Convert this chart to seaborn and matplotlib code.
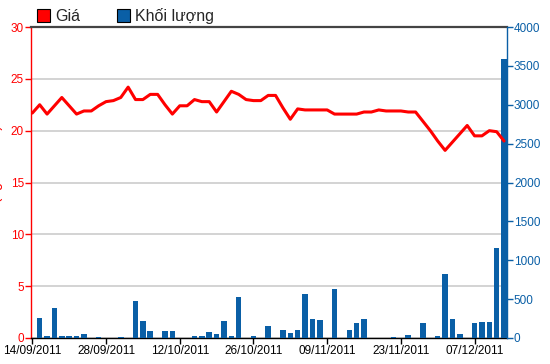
import numpy as np
import pandas as pd
import seaborn as sns
import matplotlib.pyplot as plt
from matplotlib.patches import Patch

# trading days 14/09/2011 .. 13/12/2011
dates = pd.bdate_range("2011-09-14", periods=65)
tick_labels = ["14/09/2011", "28/09/2011", "12/10/2011", "26/10/2011",
               "09/11/2011", "23/11/2011", "07/12/2011"]

price = [21.7, 22.5, 21.6, 22.4, 23.2, 22.4, 21.6, 21.9, 21.9, 22.4,
         22.8, 22.9, 23.2, 24.2, 23.0, 23.0, 23.5, 23.5, 22.5, 21.6,
         22.4, 22.4, 23.0, 22.8, 22.8, 21.8, 22.8, 23.8, 23.5, 23.0,
         22.9, 22.9, 23.4, 23.4, 22.2, 21.1, 22.1, 22.0, 22.0, 22.0,
         22.0, 21.6, 21.6, 21.6, 21.6, 21.8, 21.8, 22.0, 21.9, 21.9,
         21.9, 21.8, 21.8, 20.9, 20.0, 19.0, 18.1, 18.9, 19.7, 20.5,
         19.5, 19.5, 20.0, 19.9, 19.0]

volume = [0, 253, 30, 382, 30, 30, 30, 51, 0, 17,
          0, 0, 15, 0, 480, 223, 94, 0, 94, 94,
          0, 0, 30, 30, 81, 47, 223, 30, 527, 0,
          30, 0, 158, 0, 100, 64, 98, 566, 240, 227,
          0, 630, 0, 98, 193, 240, 0, 0, 0, 13,
          0, 34, 0, 193, 0, 20, 823, 240, 51, 0,
          193, 210, 210, 1158, 3590]

RED = "#ff0000"
BLUE = "#0a5fa6"

sns.set_theme(style="white")
plt.rcParams["font.family"] = ["Liberation Sans", "DejaVu Sans"]

idx = np.arange(len(dates))
df = pd.DataFrame({"i": idx, "price": price, "volume": volume})

fig = plt.figure(figsize=(5.5, 3.64), dpi=100)
ax = fig.add_axes([31 / 550, 26 / 364, 476 / 550, 311 / 364])
axv = ax.twinx()
axl = ax.twinx()

# volume bars (right axis)
sns.barplot(data=df, x="i", y="volume", ax=axv, color=BLUE, width=0.75,
            saturation=1, edgecolor="none")
# price line (left scale)
sns.lineplot(data=df, x="i", y="price", ax=axl, color=RED, lw=2.2)

ax.set_ylim(0, 30)
axl.set_ylim(0, 30)
axv.set_ylim(0, 4000)
ax.set_xlim(-0.18, 64.4)

ax.set_yticks(range(0, 31, 5))
ax.yaxis.grid(True, color="#cccccc", lw=1.2)
ax.xaxis.grid(False)
ax.tick_params(axis="y", colors=RED, length=4, width=1, labelsize=8.5, pad=1,
               left=True)
ax.set_xticks(idx[::10])
ax.set_xticklabels(tick_labels)
ax.tick_params(axis="x", colors="black", length=4, width=1, labelsize=8.5,
               pad=1, bottom=True)
ax.set_ylabel("Giá (nghìn VNĐ)", color=RED, fontsize=10)
ax.yaxis.set_label_coords(-0.0588, 0.52)
ax.set_xlabel("")

axv.set_yticks(range(0, 4001, 500))
axv.tick_params(axis="y", colors=BLUE, length=4, width=1, labelsize=8.5,
                pad=1, right=True)
axv.set_ylabel("")
axv.set_xlabel("")
axv.grid(False)

axl.set_yticks([])
axl.set_ylabel("")
axl.set_xlabel("")
axl.grid(False)

for s in axl.spines.values():
    s.set_visible(False)
for name in ["left", "top", "bottom"]:
    axv.spines[name].set_visible(False)
axv.spines["right"].set_color(BLUE)
axv.spines["right"].set_linewidth(1)
ax.spines["right"].set_visible(False)
ax.spines["left"].set_color(RED)
ax.spines["left"].set_linewidth(1)
ax.spines["bottom"].set_color("black")
ax.spines["bottom"].set_linewidth(1)
ax.spines["top"].set_color("#444444")
ax.spines["top"].set_linewidth(1.6)

handles = [Patch(facecolor=RED, edgecolor="black", lw=0.8, label="Giá"),
           Patch(facecolor=BLUE, edgecolor="black", lw=0.8, label="Khối lượng")]
fig.legend(handles=handles, loc="center left", bbox_to_anchor=(37 / 550, 1 - 16 / 364),
           ncol=2, frameon=False, fontsize=11.5, handlelength=0.8,
           handleheight=0.8, handletextpad=0.35, columnspacing=2.3,
           borderpad=0, borderaxespad=0)

fig.savefig("out.png", dpi=100)
